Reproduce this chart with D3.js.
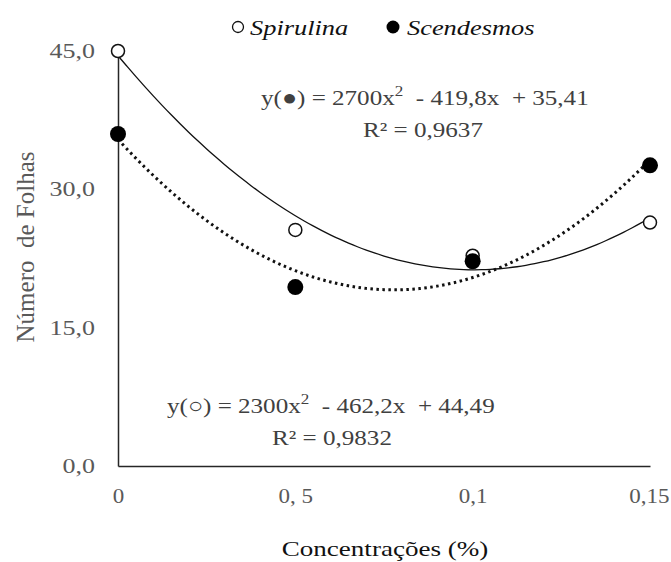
<html>
<meta charset="utf-8">
<head>
  <title>Número de Folhas</title>
</head>
<style>
body { margin: 0; background: #fff; }
</style>
<body>
<svg width="671" height="562"></svg>
<script src="https://d3js.org/d3.v7.min.js"></script>
<script>
var width = 671, height = 562
var serif = '"Liberation Serif", "Times New Roman", serif'

// concentrations (%) and tick labels as printed
var concentracoes = [0, 0.05, 0.1, 0.15]
var xLabels = ['0', '0, 5', '0,1', '0,15']
var yTicks = [0, 15, 30, 45]

// Número de Folhas
var spirulina = [45.0, 25.6, 22.8, 26.4]
var scendesmos = [36.0, 19.4, 22.2, 32.6]

// quadratic fits: a x^2 + b x + c
var spirulinaFit = [2300, -462.2, 44.49]
var scendesmosFit = [2700, -419.8, 35.41]

var svg = d3.select('svg')

var x = d3.scaleLinear().domain([0, 0.15]).range([118, 650])
var y = d3.scaleLinear().domain([0, 45]).range([466, 51])

// the original picture is stretched sideways, so text gets a horizontal scale
var tickSx = 1.3

// axes - plain lines, no tick marks
var yAxis = d3.axisLeft(y).tickValues(yTicks).tickSize(0).tickPadding(23)
  .tickFormat(function(d) { return d3.format('.1f')(d).replace('.', ',') })
var gy = svg.append('g').attr('transform', 'translate(' + x(0) + ',0)').call(yAxis)
gy.attr('font-family', null).attr('font-size', null)
gy.select('.domain').attr('stroke', '#262626').attr('stroke-width', 1.5)
gy.selectAll('text').attr('font-size', 20).attr('fill', '#595959')
  .attr('x', -23 / tickSx).attr('transform', 'scale(' + tickSx + ',1)')

var xAxis = d3.axisBottom(x).tickValues(concentracoes).tickSize(0).tickPadding(23)
  .tickFormat(function(d, i) { return xLabels[i] })
var gx = svg.append('g').attr('transform', 'translate(0,' + y(0) + ')').call(xAxis)
gx.attr('font-family', null).attr('font-size', null)
gx.select('.domain').attr('stroke', '#262626').attr('stroke-width', 1.5)
gx.selectAll('text').attr('font-size', 20).attr('fill', '#595959')
  .attr('transform', 'scale(1.15,1)')
// last label sits against the right edge
gx.selectAll('.tick').filter(function(d) { return d === 0.15 })
  .select('text').attr('text-anchor', 'end').attr('x', 19 / 1.15)

function label(px, py, str, size, sx, anchor, fill) {
  return svg.append('text')
    .attr('transform', 'translate(' + px + ',' + py + ') scale(' + sx + ',1)')
    .attr('text-anchor', anchor).attr('font-size', size).attr('fill', fill)
    .text(str)
}

// axis titles
label(385, 556, 'Concentrações (%)', 22, 1.23, 'middle', '#111')

svg.append('text')
  .attr('transform', 'translate(34,247) rotate(-90)')
  .attr('text-anchor', 'middle').attr('font-size', 25).attr('fill', '#595959')
  .text('Número\u00a0 de Folhas')

// trend curves
function fitPoints(c) {
  return d3.range(0, 0.15001, 0.0025).map(function(v) {
    return [v, c[0] * v * v + c[1] * v + c[2]]
  })
}
var line = d3.line()
  .x(function(d) { return x(d[0]) })
  .y(function(d) { return y(d[1]) })
  .curve(d3.curveBasis)

svg.append('path')
  .datum(fitPoints(spirulinaFit))
  .attr('d', line)
  .attr('fill', 'none').attr('stroke', '#111').attr('stroke-width', 1.3)

svg.append('path')
  .datum(fitPoints(scendesmosFit))
  .attr('d', line)
  .attr('fill', 'none').attr('stroke', '#111').attr('stroke-width', 3)
  .attr('stroke-dasharray', '2.5,3.5')

// markers
svg.selectAll('circle.sp')
  .data(spirulina)
  .enter()
  .append('circle')
  .attr('class', 'sp')
  .attr('cx', function(d, i) { return x(concentracoes[i]) })
  .attr('cy', function(d) { return y(d) })
  .attr('r', 6.5)
  .attr('fill', '#fff').attr('stroke', '#111').attr('stroke-width', 1.5)

svg.selectAll('circle.sc')
  .data(scendesmos)
  .enter()
  .append('circle')
  .attr('class', 'sc')
  .attr('cx', function(d, i) { return x(concentracoes[i]) })
  .attr('cy', function(d) { return y(d) })
  .attr('r', 8)
  .attr('fill', '#000')

// legend
svg.append('circle').attr('cx', 238).attr('cy', 27).attr('r', 5.5)
  .attr('fill', '#fff').attr('stroke', '#111').attr('stroke-width', 1.3)
label(250, 35, 'Spirulina', 22, 1.2, 'start', '#111').attr('font-style', 'italic')
svg.append('circle').attr('cx', 393).attr('cy', 27).attr('r', 6.5)
  .attr('fill', '#000')
label(407, 35, 'Scendesmos', 22, 1.2, 'start', '#111').attr('font-style', 'italic')

// equations
function fmt(v) { return String(v).replace('.', ',') }
function equation(px, py, sym, coefs, r2, r2x) {
  var t = label(px, py, '', 22, 1.14, 'start', '#404040')
  t.append('tspan').text('y(' + sym + ') = ' + coefs[0] + 'x')
  t.append('tspan').attr('dy', -9).attr('font-size', 15).text('2')
  t.append('tspan').attr('dy', 9).text('\u00a0 - ' + fmt(-coefs[1]) + 'x \u00a0+ ' + fmt(coefs[2]))
  label(r2x, py + 32, 'R² = ' + r2, 22, 1.14, 'middle', '#404040')
}
equation(261, 105, '●', scendesmosFit, '0,9637', 423)
equation(167, 413, '○', spirulinaFit, '0,9832', 332)

svg.selectAll('text').style('font-family', serif)
</script>
</body>
</html>
